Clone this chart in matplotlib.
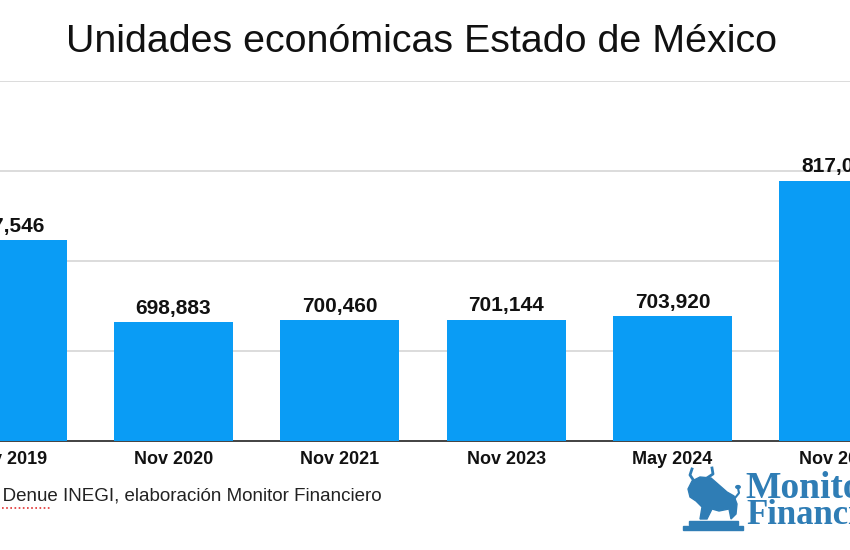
import matplotlib.pyplot as plt
from matplotlib.patches import Rectangle, Polygon, Circle
from matplotlib.lines import Line2D

# =====================
# Data
# =====================
periodos = ["Nov 2019", "Nov 2020", "Nov 2021", "Nov 2023", "May 2024", "Nov 2025"]
unidades = [767546, 698883, 700460, 701144, 703920, 817050]

bar_color = "#0A9CF5"
logo_color = "#2F7DB5"

plt.rcParams["font.family"] = ["Liberation Sans", "DejaVu Sans"]

fig = plt.figure(figsize=(8.5, 5.5), dpi=100)
ax = fig.add_axes([0, 109 / 550, 1, 360 / 550])

x = list(range(len(periodos)))
ax.bar(x, unidades, width=0.716, color=bar_color, zorder=3)

# value labels
for xi, v in zip(x, unidades):
    ax.annotate(f"{v:,}", (xi, v), xytext=(0, 3), textcoords="offset points",
                ha="center", va="bottom", fontsize=15, fontweight="bold", color="#111111")

# axis setup: cropped view, first and last bars cut off
ax.set_xlim(-0.0433, 5.068)
ax.set_ylim(600000, 900000)
ax.set_yticks([675000, 750000, 825000, 900000])
ax.yaxis.grid(True, color="#d6d6d6", linewidth=1.2, zorder=0)
ax.tick_params(axis="y", length=0, labelleft=False)
ax.set_xticks(x)
ax.set_xticklabels(periodos, fontsize=13, fontweight="bold", color="#111111")
ax.tick_params(axis="x", length=0, pad=7)
for s in ["top", "left", "right"]:
    ax.spines[s].set_visible(False)
ax.spines["bottom"].set_color("#333333")
ax.spines["bottom"].set_linewidth(1.3)

# title
fig.text(421 / 850, 1 - 42 / 550, "Unidades económicas Estado de México",
         ha="center", va="center", fontsize=28.4, color="#111111")

# source note (left part cut off by the frame)
fig.text(382 / 850, 1 - 496 / 550, "Fuente: Denue INEGI, elaboración Monitor Financiero",
         ha="right", va="center", fontsize=13.5, color="#222222")
fig.add_artist(Line2D([2 / 850, 52 / 850], [1 - 508 / 550, 1 - 508 / 550],
                      color="#e03030", linestyle=(0, (1, 1.5)), linewidth=1.2))

# logo: bull on a stepped pedestal + name
W, H = 850, 550
def px(xp, yp):
    return (xp / W, 1 - yp / H)

fig.add_artist(Rectangle(px(683, 530), 60 / W, 4 / H, color=logo_color))
fig.add_artist(Rectangle(px(689, 525), 49 / W, 4 / H, color=logo_color))
bull = [(690, 497), (688, 489), (692, 481), (700, 477), (711, 478), (719, 485),
        (727, 492), (734, 496), (737, 504), (736, 514), (731, 519), (729, 509),
        (719, 511), (712, 509), (707, 519), (700, 519), (702, 507), (696, 501)]
fig.add_artist(Polygon([px(a, b) for a, b in bull], closed=True, color=logo_color))
fig.add_artist(Line2D([694 / W, 690 / W, 692 / W], [1 - 481 / H, 1 - 475 / H, 1 - 469 / H],
                      color=logo_color, linewidth=2))
fig.add_artist(Line2D([707 / W, 713 / W, 712 / W], [1 - 478 / H, 1 - 474 / H, 1 - 468 / H],
                      color=logo_color, linewidth=2))
fig.add_artist(Line2D([735 / W, 739 / W, 738 / W], [1 - 498 / H, 1 - 493 / H, 1 - 488 / H],
                      color=logo_color, linewidth=1.5))
fig.add_artist(Circle(px(738, 487), 2.2 / W, color=logo_color))

fig.text(745 / W, 1 - 498 / H, "Monitor", ha="left", va="baseline", fontsize=27,
         fontweight="bold", family="Liberation Serif", color=logo_color)
fig.text(746 / W, 1 - 524 / H, "Financiero", ha="left", va="baseline", fontsize=25,
         fontweight="bold", family="Liberation Serif", color=logo_color)

fig.savefig("out.png", dpi=100)
